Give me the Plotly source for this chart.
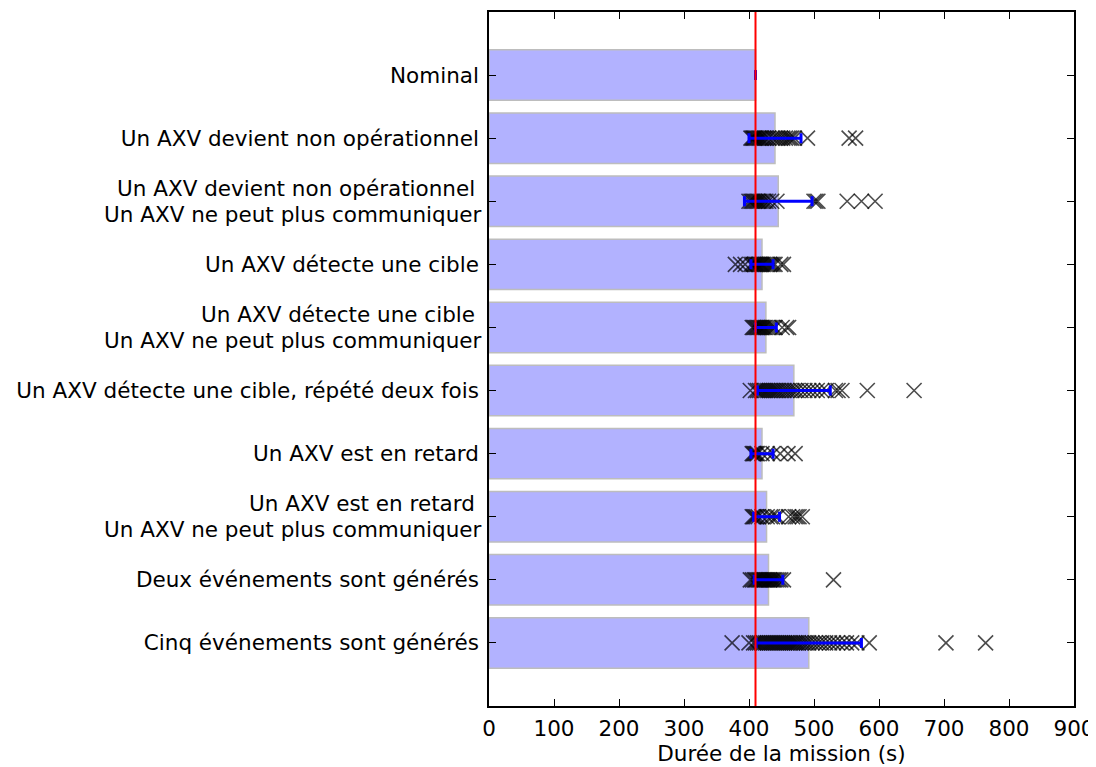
import plotly.graph_objects as go

# scenarios, top to bottom (two-line labels are split into lists)
scenarios = [
    ["Nominal"],
    ["Un AXV devient non opérationnel"],
    ["Un AXV devient non opérationnel\u00a0", "Un AXV ne peut plus communiquer"],
    ["Un AXV détecte une cible"],
    ["Un AXV détecte une cible\u00a0", "Un AXV ne peut plus communiquer"],
    ["Un AXV détecte une cible, répété deux fois"],
    ["Un AXV est en retard"],
    ["Un AXV est en retard\u00a0", "Un AXV ne peut plus communiquer"],
    ["Deux événements sont générés"],
    ["Cinq événements sont générés"],
]

mean_duration = [410, 440, 445, 420, 426, 469, 420, 427, 430, 492]
std_duration = [0, 40, 52, 17, 16, 56, 17, 20, 22, 81]
nominal_duration = 410

runs = [
    [],
    [403, 405, 407, 408, 410, 412, 414, 416, 418, 420, 423, 426, 430, 436, 440,
     444, 448, 452, 456, 460, 463, 466, 470, 490, 554, 564],
    [400, 403, 405, 407, 409, 411, 413, 415, 417, 420, 423, 426, 430, 435, 443,
     500, 503, 506, 551, 573, 594],
    [379, 387, 394, 403, 406, 408, 410, 412, 414, 416, 418, 420, 422, 425, 428,
     431, 434, 437, 440, 449, 453],
    [405, 407, 409, 411, 413, 415, 417, 419, 421, 423, 425, 428, 431, 434, 437,
     440, 451, 458, 461],
    [402, 410, 413, 416, 419, 422, 425, 428, 431, 434, 437, 440, 443, 446, 450,
     454, 458, 462, 466, 470, 474, 480, 486, 492, 498, 505, 512, 519, 533, 537,
     543, 582, 654],
    [405, 407, 409, 411, 413, 420, 428, 437, 448, 460, 471],
    [405, 407, 409, 411, 414, 420, 428, 433, 436, 441, 444, 461, 467, 471, 474,
     477, 482],
    [402, 405, 408, 410, 412, 414, 416, 418, 420, 422, 424, 426, 428, 430, 432,
     434, 436, 438, 440, 443, 446, 449, 453, 530],
    [374, 400, 407, 410, 413, 416, 419, 422, 425, 428, 431, 434, 437, 440, 443,
     446, 449, 452, 455, 458, 461, 464, 467, 470, 473, 476, 480, 484, 488, 492,
     497, 502, 507, 512, 518, 524, 530, 536, 543, 550, 558, 566, 585, 703, 764],
]

pos = list(range(len(scenarios)))

fig = go.Figure()
fig.add_trace(go.Bar(
    x=mean_duration, y=pos, orientation="h", width=0.8,
    marker=dict(color="rgba(0,0,255,0.3)", line=dict(color="#bdbdbd", width=1.5)),
))

xs, ys = [], []
for i, r in enumerate(runs):
    xs += r
    ys += [i] * len(r)
fig.add_trace(go.Scatter(
    x=xs, y=ys, mode="markers",
    marker=dict(symbol="x-thin-open", size=15, color="rgba(0,0,0,0.7)",
                line=dict(width=1.6, color="rgba(0,0,0,0.7)")),
))
fig.add_trace(go.Scatter(
    x=mean_duration, y=pos, mode="markers",
    marker=dict(size=0.1, color="blue", opacity=0),
    error_x=dict(type="data", array=std_duration, color="blue", thickness=3, width=5),
))

fig.add_vline(x=nominal_duration, line=dict(color="red", width=2), layer="above")

font = dict(family="DejaVu Sans", size=21.5, color="black")
axis_common = dict(
    showline=True, linecolor="black", linewidth=1.5, mirror="ticks",
    ticks="inside", ticklen=7, tickcolor="black", tickwidth=1.2,
    showgrid=False, zeroline=False, tickfont=font, automargin=False,
)

# single-line labels as tick labels, two-line ones as tighter annotations
ticktext = [s[0] if len(s) == 1 else "" for s in scenarios]
for i, s in enumerate(scenarios):
    if len(s) == 2:
        for k, line in enumerate(s):
            fig.add_annotation(
                x=0, xref="paper", y=i + (k - 0.5) * 0.41, yref="y",
                text=line, showarrow=False, xanchor="right", yanchor="middle",
                xshift=-5, font=font,
            )

fig.update_xaxes(range=[0, 900], dtick=100, ticklabelstandoff=2,
                 title=dict(text="Durée de la mission (s)", font=font, standoff=3),
                 **axis_common)
fig.update_yaxes(range=[10, -1], tickvals=pos, ticktext=ticktext,
                 ticklabelstandoff=4, **axis_common)

# the page body adds 8px on the top and left
fig.update_layout(
    width=1096, height=767,
    margin=dict(l=481, r=30, t=4, b=69),
    plot_bgcolor="white", paper_bgcolor="white",
    showlegend=False,
    font=font,
)

fig.write_html("out.html")
